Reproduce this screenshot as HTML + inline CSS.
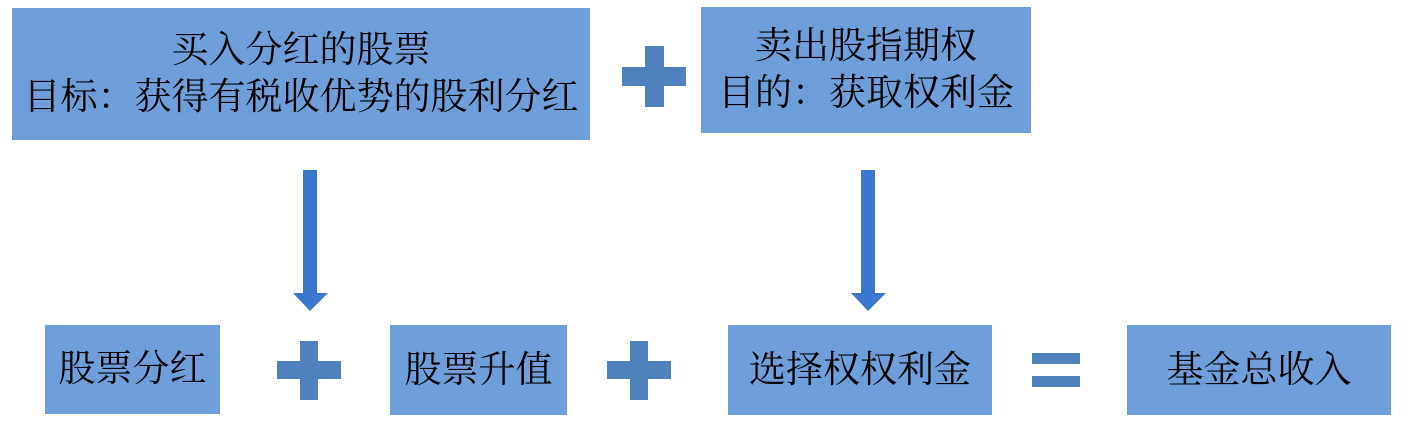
<!DOCTYPE html>
<html><head><meta charset="utf-8"><style>
body{margin:0;width:1410px;height:426px;background:#fff;position:relative;overflow:hidden;font-family:"Liberation Serif","Noto Serif CJK SC",serif;}
.b{position:absolute;background:#6f9fdb;display:flex;align-items:center;justify-content:center;text-align:center;color:#000;line-height:47px;white-space:nowrap;}
.p{position:absolute;}
</style></head><body>
<div class="b" style="left:12px;top:8px;width:578px;height:132px;font-size:37px;">买入分红的股票<br>目标：获得有税收优势的股利分红</div>
<div class="b" style="left:701px;top:7px;width:330px;height:126px;font-size:37px;">卖出股指期权<br>目的：获取权利金</div>
<div class="b" style="left:45px;top:325px;width:175px;height:89px;font-size:37px;">股票分红</div>
<div class="b" style="left:390px;top:325px;width:177px;height:90px;font-size:37px;">股票升值</div>
<div class="b" style="left:728px;top:325px;width:264px;height:90px;font-size:37px;">选择权权利金</div>
<div class="b" style="left:1127px;top:325px;width:264px;height:90px;font-size:37px;">基金总收入</div>
<svg class="p" style="left:0;top:0" width="1410" height="426">
<g fill="#4f81bd">
<rect x="622" y="67" width="64" height="19"/><rect x="645" y="46" width="19" height="61"/>
<rect x="277" y="361" width="64" height="18"/><rect x="300" y="341" width="18" height="59"/>
<rect x="607" y="361" width="64" height="18"/><rect x="630" y="341" width="18" height="59"/>
<rect x="1032" y="353" width="48" height="11"/><rect x="1032" y="376" width="48" height="11"/>
</g>
<g fill="#3a78d0">
<rect x="303" y="170" width="14" height="124"/><polygon points="293,293 328,293 310,311"/>
<rect x="861" y="170" width="14" height="124"/><polygon points="851,293 886,293 868,311"/>
</g>
</svg>
</body></html>
